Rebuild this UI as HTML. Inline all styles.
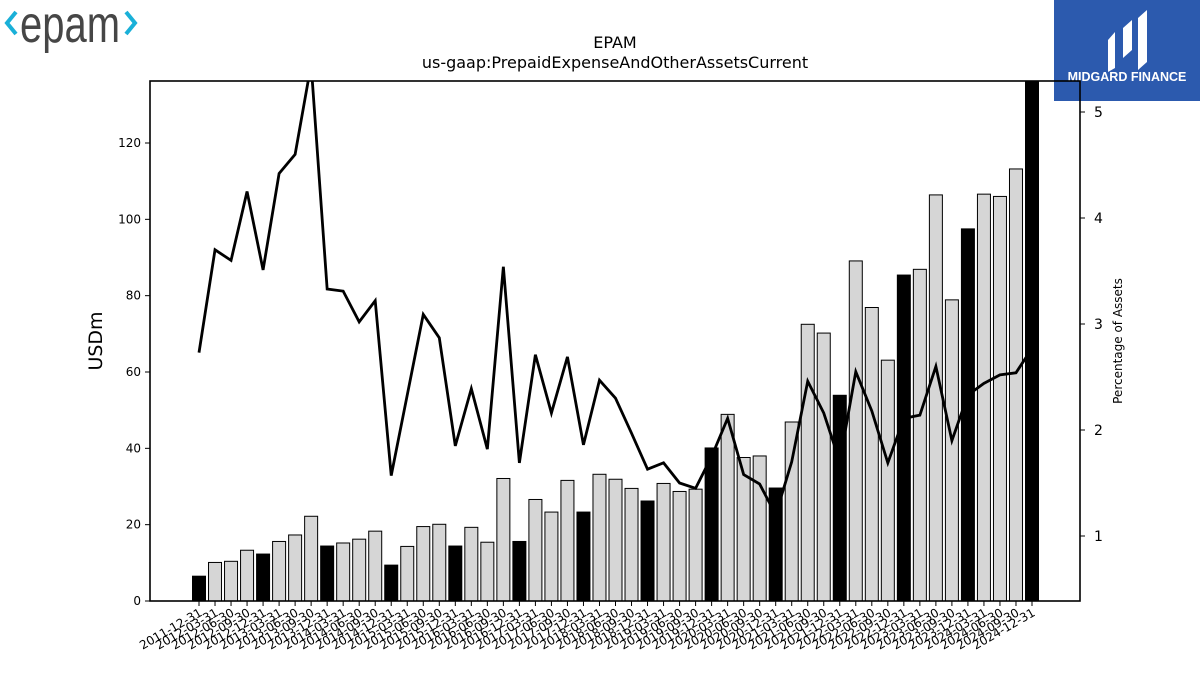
<!DOCTYPE html>
<html><head><meta charset="utf-8"><style>
body{margin:0;background:#fff;}
svg{display:block;font-family:"DejaVu Sans","Liberation Sans",sans-serif;}
</style></head><body>
<svg id="chart" width="1200" height="675" viewBox="0 0 1200 675" xmlns="http://www.w3.org/2000/svg">
<g>
<text x="20" y="42" font-size="52" fill="#464646" font-family="Liberation Sans, sans-serif" textLength="100" lengthAdjust="spacingAndGlyphs">epam</text>
<polyline points="16,12 7,23 16,34" fill="none" stroke="#1ab0d8" stroke-width="4"/>
<polyline points="126,12 135,23 126,34" fill="none" stroke="#1ab0d8" stroke-width="4"/>
</g>
<g>
<rect x="1054" y="0" width="146" height="101" fill="#2c5aae"/>
<path d="M1108,40 l7,-8 v36 l-7,4z M1123,28 l9,-8 v30 l-9,8z M1138,18 l9,-8 v52 l-9,8z" fill="#fff"/>
<text x="1127" y="81" font-size="12.5" font-weight="bold" fill="#fff" text-anchor="middle" font-family="Liberation Sans, sans-serif">MIDGARD FINANCE</text>
</g>
<text x="615" y="48" font-size="16" text-anchor="middle">EPAM</text>
<text x="615" y="68" font-size="16" text-anchor="middle">us-gaap:PrepaidExpenseAndOtherAssetsCurrent</text>
<text transform="translate(102,341) rotate(-90)" font-size="19" text-anchor="middle">USDm</text>
<text transform="translate(1122,341) rotate(-90)" font-size="12" text-anchor="middle">Percentage of Assets</text>
<g id="plot"></g>
</svg>
<script>
const categories = [];
for (let y = 2011; y <= 2024; y++) for (const q of ['03-31','06-30','09-30','12-31']) { const d = y + '-' + q; if (d >= '2011-12-31') categories.push(d); }
const usdValues = [6.5,10.1,10.4,13.3,12.3,15.6,17.3,22.2,14.4,15.2,16.2,18.3,9.4,14.3,19.5,20.1,14.4,19.3,15.4,32.1,15.6,26.6,23.3,31.6,23.3,33.2,31.9,29.5,26.2,30.8,28.7,29.3,40.1,48.9,37.6,38.0,29.6,46.9,72.5,70.2,53.9,89.1,76.9,63.1,85.4,86.9,106.4,78.9,97.5,106.6,106.0,113.2,145];
const pctValues = [2.73,3.70,3.60,4.25,3.51,4.42,4.60,5.45,3.33,3.31,3.02,3.22,1.57,2.33,3.09,2.87,1.85,2.39,1.82,3.54,1.69,2.71,2.16,2.69,1.86,2.47,2.30,1.97,1.63,1.69,1.50,1.45,1.75,2.11,1.58,1.49,1.20,1.70,2.46,2.16,1.70,2.55,2.18,1.69,2.11,2.14,2.60,1.90,2.33,2.44,2.52,2.54,2.77];
const leftTicks = [0,20,40,60,80,100,120];
const rightTicks = [1,2,3,4,5];

const NS='http://www.w3.org/2000/svg';
const plot=document.getElementById('plot');
const L=150,R=1080,T=81,B=601;
const yL=v=>B-v*(458/120);
const yR=v=>112+(5-v)*106;
const xC=i=>199+i*((1032-199)/(categories.length-1));
function mk(tag,attrs){const e=document.createElementNS(NS,tag);for(const k in attrs)e.setAttribute(k,attrs[k]);return e;}
const clip=mk('clipPath',{id:'pc'});clip.appendChild(mk('rect',{x:L,y:T,width:R-L,height:B-T}));plot.appendChild(clip);
const gb=mk('g',{'clip-path':'url(#pc)'});


plot.appendChild(gb);
categories.forEach((c,i)=>{
  const dec=c.endsWith('12-31');
  const r=mk('rect',{x:xC(i)-6.5,y:yL(usdValues[i]),width:13,height:B-yL(usdValues[i]),fill:dec?'#000':'#d6d6d6',stroke:'#000','stroke-width':1});
  
  
  gb.appendChild(r);
});
const line=mk('polyline',{points:pctValues.map((v,i)=>xC(i)+','+yR(v)).join(' '),fill:'none',stroke:'#000','stroke-width':2.8,'stroke-linejoin':'miter'});


gb.appendChild(line);
const frame=mk('rect',{x:L,y:T,width:R-L,height:B-T,fill:'none',stroke:'#000','stroke-width':1.6});


plot.appendChild(frame);
leftTicks.forEach(v=>{
  const y=yL(v);
  const t=mk('line',{x1:L-5,x2:L,y1:y,y2:y,stroke:'#000'});
  
  
  plot.appendChild(t);
  const tx=mk('text',{x:L-9,y:y+4,'font-size':12,'text-anchor':'end'});tx.textContent=v;
  
  
  plot.appendChild(tx);
});
rightTicks.forEach(v=>{
  const y=yR(v);
  const t=mk('line',{x1:R,x2:R+5,y1:y,y2:y,stroke:'#000'});
  
  
  plot.appendChild(t);
  const tx=mk('text',{x:R+14,y:y+5,'font-size':14});tx.textContent=v;
  
  
  plot.appendChild(tx);
});
categories.forEach((c,i)=>{
  const x=xC(i);
  const t=mk('line',{x1:x,x2:x,y1:B,y2:B+5,stroke:'#000'});
  
  
  plot.appendChild(t);
  const tx=mk('text',{'font-size':12,'text-anchor':'end',transform:'translate('+(x+4)+','+(B+14)+') rotate(-30)'});
  tx.textContent=c;
  
  
  plot.appendChild(tx);
});
</script>
</body></html>
